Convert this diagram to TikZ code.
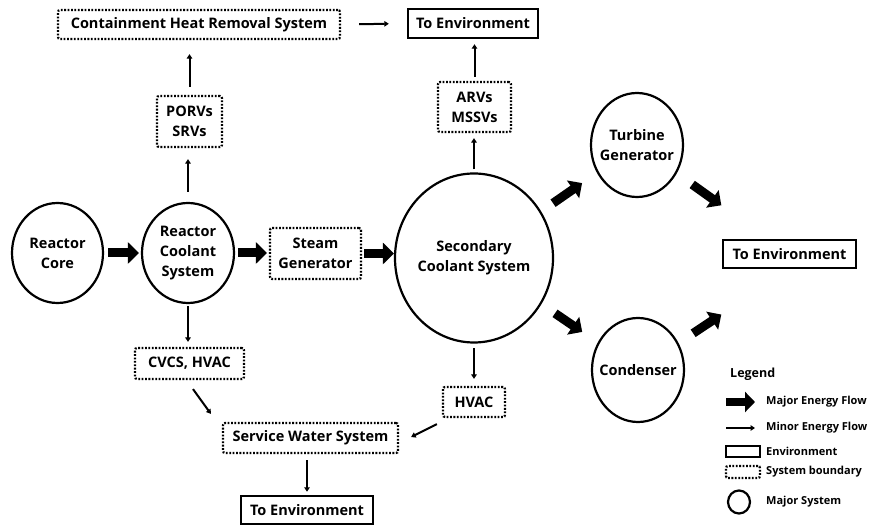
\documentclass[tikz,border=0pt]{standalone}
\usepackage{fontspec}
\setmainfont{Open Sans}
\usetikzlibrary{arrows.meta,shapes.geometric,calc}
\begin{document}
\begin{tikzpicture}[x=1pt,y=-1pt,
  every node/.style={font=\bfseries\fontsize{14.5}{20}\selectfont, align=center, inner sep=0pt},
  sysbox/.style={draw, line width=2.2pt, dash pattern=on 1.8pt off 1.6pt, rounded corners=2pt},
  envbox/.style={draw, line width=2.4pt},
  majorsys/.style={draw, ellipse, line width=2.2pt},
  majorflow/.style={line width=9pt, -{Triangle[length=11pt,width=21pt]}},
  minorflow/.style={line width=2pt, -{Triangle[length=4.5pt,width=5.5pt]}},
  legtext/.style={anchor=west, font=\bfseries\fontsize{11}{13}\selectfont},
]
\useasboundingbox (0,0) rectangle (871,526);
\fill[white] (0,0) rectangle (871,526);

% nodes
\node[sysbox, minimum width=282pt, minimum height=29pt] (chr) at (199,24.5) {Containment Heat Removal System};
\node[envbox, minimum width=130pt, minimum height=29pt] (env1) at (473,23.5) {To Environment};
\node[sysbox, minimum width=65pt, minimum height=51pt] (porvs) at (189.5,121.5) {PORVs\\SRVs};
\node[sysbox, minimum width=73pt, minimum height=50pt] (arvs) at (474.5,107) {ARVs\\MSSVs};
\node[majorsys, minimum width=91pt, minimum height=100pt, label={[name=rct]center:{Reactor\\Core}}] (rc) at (57.5,253) {};
\node[majorsys, minimum width=92pt, minimum height=100pt, label={[name=rcst]center:{Reactor\\Coolant\\System}}] (rcs) at (188,253) {};
\node[sysbox, minimum width=91pt, minimum height=51pt] (sg) at (315.5,253.5) {Steam\\Generator};
\node[majorsys, minimum width=158pt, minimum height=169pt, label={[name=scst]center:{Secondary\\Coolant System}}] (scs) at (474,258) {};
\node[majorsys, minimum width=92pt, minimum height=104pt, label={[name=tgt]center:{Turbine\\Generator}}] (tg) at (637,145) {};
\node[majorsys, minimum width=92pt, minimum height=104pt, label={[name=condt]center:{Condenser}}] (cond) at (638,370) {};
\node[envbox, minimum width=133pt, minimum height=28pt] (env2) at (789.5,254) {To Environment};
\node[sysbox, minimum width=109pt, minimum height=31pt] (cvcs) at (189.5,363.5) {CVCS, HVAC};
\node[sysbox, minimum width=62pt, minimum height=30pt] (hvac) at (474,402) {HVAC};
\node[sysbox, minimum width=175pt, minimum height=30pt] (sws) at (310.5,438) {Service Water System};
\node[envbox, minimum width=132pt, minimum height=28pt] (env3) at (307,510) {To Environment};

% major flows
\draw[majorflow, shorten <=4pt, shorten >=2pt] (rc.east) -- (rc.east -| rcs.west);
\draw[majorflow, shorten <=3pt, shorten >=2pt] (rcs.east) -- (rcs.east -| sg.west);
\draw[majorflow, shorten <=2pt] (sg.east) -- (sg.east -| scs.west);
\draw[majorflow] ($(scs)!0.485!(tg)$) -- ($(scs)!0.663!(tg)$);
\draw[majorflow] ($(scs)!0.494!(cond)$) -- ($(scs)!0.66!(cond)$);
\draw[majorflow] ($(tg)!0.362!(env2)$) -- ($(tg)!0.553!(env2)$);
\draw[majorflow] ($(cond)!0.364!(env2.south)$) -- ($(cond)!0.55!(env2.south)$);

% minor flows
\draw[minorflow, shorten <=18pt, shorten >=18pt] (chr.east) -- (env1.west);
\draw[minorflow, shorten <=8pt, shorten >=14pt] (porvs.north) -- (porvs.north |- chr.south);
\draw[minorflow, shorten <=10pt, shorten >=11pt] (rcs.north) -- (rcs.north |- porvs.south);
\draw[minorflow, shorten <=3pt, shorten >=5pt] (scs.north) -- (scs.north |- arvs.south);
\draw[minorflow, shorten <=4pt, shorten >=5pt] (arvs.north) -- (arvs.north |- env1.south);
\draw[minorflow, shorten <=2pt, shorten >=5pt] (rcs.south) -- (rcs.south |- cvcs.north);
\draw[minorflow] ([shift={(3.5,9)}]cvcs.south) -- ([shift={(-11,-8)}]sws.north west);
\draw[minorflow] ([shift={(-5,6)}]hvac.south west) -- ([shift={(12,-1)}]sws.east);
\draw[minorflow, shorten <=4.5pt, shorten >=7pt] (scs.south) -- (hvac.north);
\draw[minorflow, shorten <=6pt, shorten >=3pt] (env3.north |- sws.south) -- (env3.north);

% legend
\node[anchor=west, font=\bfseries\fontsize{12.5}{14}\selectfont] (legtitle) at (730,374) {Legend};
\coordinate (lma) at (726,402);
\coordinate (lmb) at (755,402);
\draw[line width=8pt, -{Triangle[length=10pt,width=20pt]}] (lma) -- (lmb);
\node[legtext] (lmt) at (766,402) {Major Energy Flow};
\coordinate (lna) at (726,428);
\coordinate (lnb) at (755,428);
\draw[minorflow] (lna) -- (lnb);
\node[legtext] (lnt) at (766,428) {Minor Energy Flow};
\node[envbox, minimum width=34pt, minimum height=11pt] (lenv) at (743,451.5) {};
\node[legtext] (lenvt) at (766,451) {Environment};
\node[sysbox, minimum width=34pt, minimum height=12pt] (lsys) at (743,472) {};
\node[legtext] (lsyst) at (766,472) {System boundary};
\node[majorsys, minimum width=22pt, minimum height=23pt] (lcirc) at (739,502) {};
\node[legtext] (lcirct) at (766,502) {Major System};
\end{tikzpicture}
\end{document}
